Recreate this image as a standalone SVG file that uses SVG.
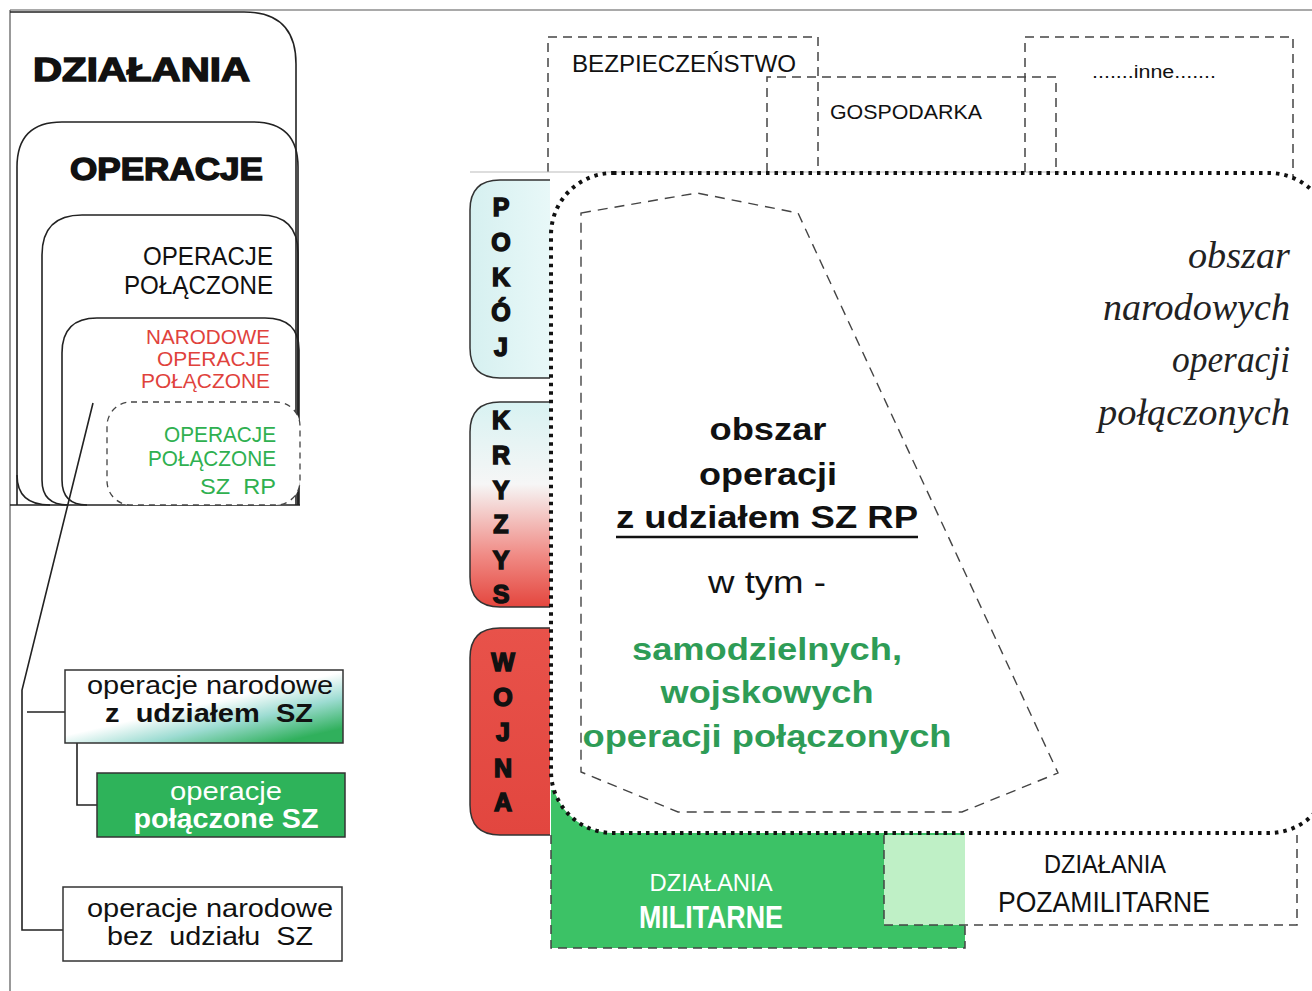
<svg xmlns="http://www.w3.org/2000/svg" width="1312" height="991" viewBox="0 0 1312 991">
<defs>
<style>
.ln{fill:none;stroke:#222;stroke-width:1.6}
.thin{fill:none;stroke:#555;stroke-width:1.2}
.dash{fill:none;stroke:#444;stroke-width:1.5;stroke-dasharray:9 6}
.sans{font-family:"Liberation Sans",Arial,sans-serif}
.heavy{font-family:"Liberation Sans",Arial,sans-serif;font-weight:bold;stroke:#111;stroke-width:1.4;fill:#111}
.tab{font-family:"Liberation Sans",Arial,sans-serif;font-weight:bold;font-size:25px;fill:#111;stroke:#111;stroke-width:1.5;text-anchor:middle}
.it{font-family:"Liberation Serif","Times New Roman",serif;font-style:italic;font-size:38px;fill:#222;text-anchor:end}
.ctr{text-anchor:middle}
.end{text-anchor:end}
</style>
<linearGradient id="gPok" x1="0" y1="0" x2="1" y2="0">
<stop offset="0" stop-color="#d6f0f0"/><stop offset="1" stop-color="#e8f8f8"/>
</linearGradient>
<linearGradient id="gKry" x1="0" y1="0" x2="0" y2="1">
<stop offset="0" stop-color="#d8f2f2"/><stop offset="0.4" stop-color="#f6f6f6"/><stop offset="0.75" stop-color="#f08a84"/><stop offset="1" stop-color="#e4463e"/>
</linearGradient>
<linearGradient id="gWoj" x1="0" y1="0" x2="0" y2="1">
<stop offset="0" stop-color="#e8524a"/><stop offset="1" stop-color="#e2463f"/>
</linearGradient>
<linearGradient id="gBox1" x1="0.3" y1="0" x2="1" y2="0.8">
<stop offset="0" stop-color="#ffffff"/><stop offset="0.45" stop-color="#ffffff"/><stop offset="0.7" stop-color="#9ddcd2"/><stop offset="1" stop-color="#30b05c"/>
</linearGradient>
</defs>

<!-- frame -->
<g id="frame">
<line class="thin" x1="10" y1="10" x2="1312" y2="10" stroke="#777"/>
<line class="thin" x1="10" y1="10" x2="10" y2="991"/>
<line class="ln" x1="10" y1="505" x2="300" y2="505"/>
</g>

<!-- left nested hierarchy -->
<g id="dzialania">
<path class="ln" d="M10,12 H244 Q296,12 296,64 V505"/>
<text class="heavy" x="33" y="81" font-size="33" textLength="217" lengthAdjust="spacingAndGlyphs">DZIAŁANIA</text>
</g>
<g id="operacje">
<path class="ln" fill="#fff" d="M17,505 V167 Q17,122 62,122 H253 Q298,122 298,167 V505"/>
<path class="ln" d="M17,475 Q17,505 50,505"/>
<text class="heavy" x="70" y="180" font-size="31" textLength="193" lengthAdjust="spacingAndGlyphs">OPERACJE</text>
</g>
<g id="operacje-polaczone">
<path class="ln" d="M42,480 V255 Q42,215 82,215 H260 Q298,215 298,253 V505"/>
<path class="ln" d="M42,480 Q42,505 68,505"/>
<text class="sans end" x="273" y="265" font-size="25" fill="#111" textLength="130" lengthAdjust="spacingAndGlyphs">OPERACJE</text>
<text class="sans end" x="273" y="294" font-size="25" fill="#111" textLength="149" lengthAdjust="spacingAndGlyphs">POŁĄCZONE</text>
</g>
<g id="narodowe">
<path class="ln" d="M62,480 V353 Q62,318 97,318 H265 Q299,318 299,350 V505"/>
<path class="ln" d="M62,480 Q62,505 87,505"/>
<text class="sans end" x="270" y="344" font-size="21" fill="#e0423c" textLength="124" lengthAdjust="spacingAndGlyphs">NARODOWE</text>
<text class="sans end" x="270" y="366" font-size="21" fill="#e0423c" textLength="113" lengthAdjust="spacingAndGlyphs">OPERACJE</text>
<text class="sans end" x="270" y="388" font-size="21" fill="#e0423c" textLength="129" lengthAdjust="spacingAndGlyphs">POŁĄCZONE</text>
</g>
<g id="sz-rp">
<rect x="107" y="402" width="193" height="103" rx="24" fill="#fff" stroke="#444" stroke-width="1.3" stroke-dasharray="6 5"/>
<text class="sans end" x="276" y="442" font-size="22" fill="#2fb050" textLength="112" lengthAdjust="spacingAndGlyphs">OPERACJE</text>
<text class="sans end" x="276" y="466" font-size="22" fill="#2fb050" textLength="128" lengthAdjust="spacingAndGlyphs">POŁĄCZONE</text>
<text class="sans end" x="276" y="494" font-size="22" fill="#2fb050" xml:space="preserve" textLength="76" lengthAdjust="spacingAndGlyphs">SZ  RP</text>
</g>

<!-- left tree connectors -->
<g id="connectors">
<polyline class="ln" points="93,403 22,690 22,930 63,930"/>
<line class="ln" x1="27" y1="712" x2="65" y2="712"/>
<polyline class="ln" points="77,743 77,805 97,805"/>
</g>

<g id="box-z-udzialem">
<rect x="65" y="670" width="278" height="73" fill="url(#gBox1)" stroke="#333" stroke-width="1.5"/>
<text class="sans ctr" x="210" y="694" font-size="26" fill="#111" textLength="246" lengthAdjust="spacingAndGlyphs">operacje narodowe</text>
<text class="sans ctr" x="209" y="722" font-size="26" font-weight="bold" fill="#111" xml:space="preserve" textLength="208" lengthAdjust="spacingAndGlyphs">z  udziałem  SZ</text>
</g>
<g id="box-polaczone-sz">
<rect x="97" y="773" width="248" height="64" fill="#2eb35a" stroke="#333" stroke-width="1.5"/>
<text class="sans ctr" x="226" y="800" font-size="26" fill="#fff" textLength="112" lengthAdjust="spacingAndGlyphs">operacje</text>
<text class="sans ctr" x="226" y="828" font-size="27" font-weight="bold" fill="#fff" textLength="185" lengthAdjust="spacingAndGlyphs">połączone SZ</text>
</g>
<g id="box-bez-udzialu">
<rect x="63" y="887" width="279" height="74" fill="#fff" stroke="#333" stroke-width="1.5"/>
<text class="sans ctr" x="210" y="917" font-size="26" fill="#111" textLength="246" lengthAdjust="spacingAndGlyphs">operacje narodowe</text>
<text class="sans ctr" x="210" y="945" font-size="26" fill="#111" xml:space="preserve" textLength="206" lengthAdjust="spacingAndGlyphs">bez  udziału  SZ</text>
</g>

<!-- top dashed areas -->
<g id="bezpieczenstwo">
<path class="dash" d="M548,172 V37 H818 V172"/>
<line x1="470" y1="172" x2="1060" y2="172" stroke="#bbb" stroke-width="1"/>
<text class="sans" x="572" y="72" font-size="24" fill="#111" textLength="224" lengthAdjust="spacingAndGlyphs">BEZPIECZEŃSTWO</text>
</g>
<g id="gospodarka">
<path class="dash" d="M767,172 V77 H1056 V172"/>
<text class="sans" x="830" y="119" font-size="21" fill="#111" textLength="152" lengthAdjust="spacingAndGlyphs">GOSPODARKA</text>
</g>
<g id="inne">
<path class="dash" d="M1025,172 V37 H1293 V185"/>
<text class="sans" x="1092" y="78" font-size="18" fill="#111" textLength="124" lengthAdjust="spacingAndGlyphs">.......inne.......</text>
</g>

<!-- phase tabs -->
<g id="pokoj">
<path d="M550,180 H500 Q470,180 470,210 V348 Q470,378 500,378 H550" fill="url(#gPok)" stroke="#333" stroke-width="1.5"/>
<text class="tab" x="501" y="216">P</text>
<text class="tab" x="501" y="251">O</text>
<text class="tab" x="501" y="286">K</text>
<text class="tab" x="501" y="321">Ó</text>
<text class="tab" x="501" y="356">J</text>
</g>
<g id="kryzys">
<path d="M550,402 H500 Q470,402 470,432 V577 Q470,607 500,607 H550" fill="url(#gKry)" stroke="#333" stroke-width="1.5"/>
<text class="tab" x="501" y="429">K</text>
<text class="tab" x="501" y="464">R</text>
<text class="tab" x="501" y="499">Y</text>
<text class="tab" x="501" y="533">Z</text>
<text class="tab" x="501" y="569">Y</text>
<text class="tab" x="501" y="603">S</text>
</g>
<g id="wojna">
<path d="M550,628 H500 Q470,628 470,658 V805 Q470,835 500,835 H550" fill="url(#gWoj)" stroke="#333" stroke-width="1.5"/>
<text class="tab" x="503" y="671">W</text>
<text class="tab" x="503" y="706">O</text>
<text class="tab" x="503" y="741">J</text>
<text class="tab" x="503" y="777">N</text>
<text class="tab" x="503" y="811">A</text>
</g>

<!-- bottom military / non-military -->
<g id="militarne">
<rect x="551" y="790" width="414" height="158" fill="#3cc266"/>
<path class="dash" d="M551,835 V948 H965 V925"/>
<text class="sans ctr" x="711" y="891" font-size="24" fill="#fff" textLength="123" lengthAdjust="spacingAndGlyphs">DZIAŁANIA</text>
<text class="sans ctr" x="711" y="928" font-size="31" font-weight="bold" fill="#fff" textLength="144" lengthAdjust="spacingAndGlyphs">MILITARNE</text>
</g>
<g id="pozamilitarne">
<rect x="884" y="835" width="81" height="90" fill="#bff0c6"/>
<path class="dash" d="M884,835 V925 H1297 V835"/>
<text class="sans ctr" x="1105" y="873" font-size="25" fill="#111" textLength="122" lengthAdjust="spacingAndGlyphs">DZIAŁANIA</text>
<text class="sans ctr" x="1104" y="912" font-size="30" fill="#111" textLength="212" lengthAdjust="spacingAndGlyphs">POZAMILITARNE</text>
</g>

<!-- national joint operations area -->
<g id="obszar-narodowych">
<rect x="551" y="173" width="780" height="660" rx="62" fill="#fff" stroke="#111" stroke-width="4" stroke-dasharray="3.5 5"/>
<text class="it" x="1290" y="268" textLength="102" lengthAdjust="spacingAndGlyphs">obszar</text>
<text class="it" x="1290" y="320" textLength="187" lengthAdjust="spacingAndGlyphs">narodowych</text>
<text class="it" x="1290" y="372" textLength="118" lengthAdjust="spacingAndGlyphs">operacji</text>
<text class="it" x="1290" y="425" textLength="192" lengthAdjust="spacingAndGlyphs">połączonych</text>
</g>

<!-- SZ RP area -->
<g id="obszar-sz-rp">
<polygon points="581,213 697,193 798,213 1058,773 962,812 678,812 581,772" fill="none" stroke="#444" stroke-width="1.4" stroke-dasharray="10 7"/>
<text class="sans ctr" x="768" y="440" font-size="31" font-weight="bold" fill="#111" textLength="117" lengthAdjust="spacingAndGlyphs">obszar</text>
<text class="sans ctr" x="768" y="485" font-size="31" font-weight="bold" fill="#111" textLength="138" lengthAdjust="spacingAndGlyphs">operacji</text>
<text class="sans ctr" x="767" y="528" font-size="31" font-weight="bold" fill="#111" textLength="302" lengthAdjust="spacingAndGlyphs">z udziałem SZ RP</text>
<line x1="616" y1="537" x2="918" y2="537" stroke="#111" stroke-width="2.5"/>
<text class="sans ctr" x="767" y="593" font-size="31" fill="#111" textLength="118" lengthAdjust="spacingAndGlyphs">w tym -</text>
<text class="sans ctr" x="767" y="660" font-size="31" font-weight="bold" fill="#2e9c56" textLength="270" lengthAdjust="spacingAndGlyphs">samodzielnych,</text>
<text class="sans ctr" x="767" y="703" font-size="31" font-weight="bold" fill="#2e9c56" textLength="213" lengthAdjust="spacingAndGlyphs">wojskowych</text>
<text class="sans ctr" x="767" y="747" font-size="31" font-weight="bold" fill="#2e9c56" textLength="369" lengthAdjust="spacingAndGlyphs">operacji połączonych</text>
</g>
</svg>
